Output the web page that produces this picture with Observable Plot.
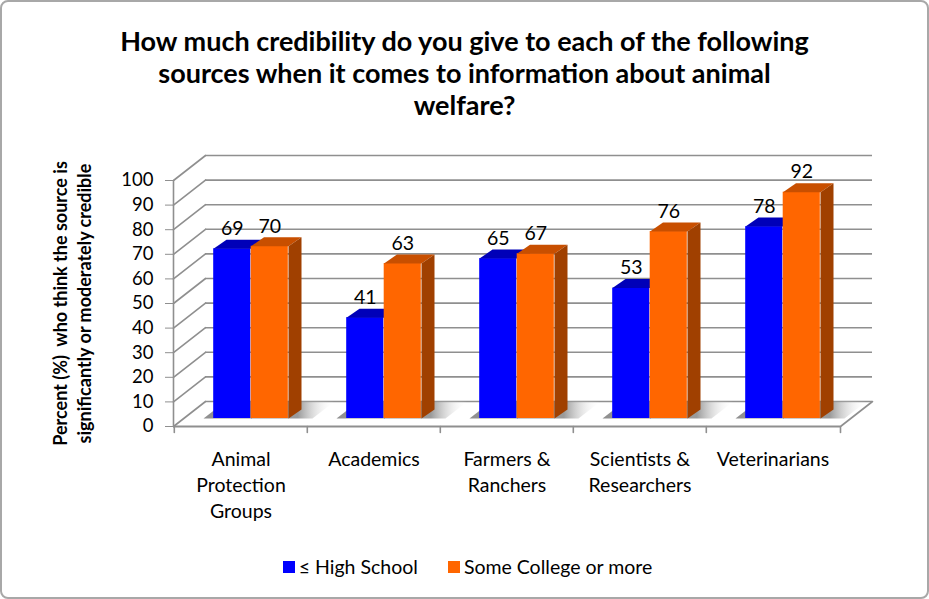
<!DOCTYPE html>
<html>
<head>
<meta charset="utf-8">
<script src="https://cdn.jsdelivr.net/npm/d3@7"></script>
<script src="https://cdn.jsdelivr.net/npm/@observablehq/plot@0.6"></script>
<style>
  body { margin: 0; background: #fff; }
  #page { position: relative; width: 929px; height: 599px; overflow: hidden; font-family: Lato, "Open Sans", sans-serif; }
  #border { position: absolute; left: 0; top: 0; width: 929px; height: 599px; box-sizing: border-box; border: 2px solid #a8a8a8; border-radius: 8px; pointer-events: none; }
  #title { position: absolute; left: 0; top: 25px; width: 929px; text-align: center; font-weight: bold; font-size: 27px; line-height: 32px; color: #000; }
  #chart { position: absolute; left: 0; top: 130px; }
  #legend { position: absolute; left: 0; top: 555px; width: 935px; display: flex; justify-content: center; gap: 30px; font-size: 19.5px; color: #000; }
  .item { display: flex; align-items: center; gap: 4px; }
  .sw { width: 12px; height: 12px; display: inline-block; }
</style>
</head>
<body>
<div id="page">
  <div id="title"></div>
  <div id="chart"></div>
  <div id="legend"></div>
  <div id="border"></div>
</div>
<script>
// ---- data ----
const titleLines = ["How much credibility do you give to each of the following", "sources when it comes to information about animal", "welfare?"];
const categories = ["Animal Protection Groups", "Academics", "Farmers & Ranchers", "Scientists & Researchers", "Veterinarians"];
const categoryLabels = ["Animal\nProtection\nGroups", "Academics", "Farmers &\nRanchers", "Scientists &\nResearchers", "Veterinarians"];
const seriesNames = ["≤ High School", "Some College or more"];
const highSchool = [69, 41, 65, 53, 78];
const someCollege = [70, 63, 67, 76, 92];
const yTicks = [0, 10, 20, 30, 40, 50, 60, 70, 80, 90, 100];
const yTitle = "Percent (%)  who think the source is\nsignificantly or moderately credible";
const frontColors = ["#0000ff", "#ff6600"];
const topColors = ["#0000b8", "#c84f00"];
const sideColors = ["#00008c", "#a04000"];

// ---- layout ----
const width = 929, height = 400;
const marginLeft = 173, marginRight = 89, marginTop = 50, marginBottom = 104;
const plotH = height - marginTop - marginBottom;
const bw = (width - marginLeft - marginRight) / categories.length;
const barW = 37.5;            // bar front width
const depthX = 13, depthY = 9; // bar depth
const planeDX = 10, planeDY = -8; // bar plane offset from front plane
const wallDX = 32, wallDY = -25;  // back wall offset
const grid = "#8f8f8f";

document.getElementById("title").innerHTML = titleLines.join("<br>");

const rowsHS = categories.map((c, i) => ({category: c, label: categoryLabels[i], value: highSchool[i]}));
const rowsSC = categories.map((c, i) => ({category: c, label: categoryLabels[i], value: someCollege[i]}));

function poly(fn) {
  return {draw(ctx, l) { const P = fn(l); ctx.moveTo(P[0][0], P[0][1]); for (let k = 1; k < P.length; ++k) ctx.lineTo(P[k][0], P[k][1]); ctx.closePath(); }};
}
const topL = poly(() => [[-barW, 0], [0, 0], [depthX, -depthY], [depthX - barW, -depthY]]);
const topR = poly(() => [[0, 0], [barW, 0], [barW + depthX, -depthY], [depthX, -depthY]]);
const sideL = poly(l => [[0, 0], [depthX, -depthY], [depthX, l - depthY], [0, l]]);
const sideR = poly(l => [[barW, 0], [barW + depthX, -depthY], [barW + depthX, l - depthY], [barW, l]]);
const shadowShape = poly(() => [[-barW - 10, 0], [barW + 24, 0], [barW + 46, -17], [-barW + 12, -17]]);
const diag = {draw(ctx) { ctx.moveTo(0, 0); ctx.lineTo(wallDX, wallDY); }};
const vline = {draw(ctx, l) { ctx.moveTo(0, 0); ctx.lineTo(0, -l); }};
const tickDown = {draw(ctx) { ctx.moveTo(0, 0); ctx.lineTo(0, 6); }};

function defs() {
  const ns = "http://www.w3.org/2000/svg";
  const d = document.createElementNS(ns, "defs");
  d.innerHTML = `<linearGradient id="shadowGrad" x1="0" x2="1" y1="0" y2="0">
    <stop offset="0" stop-color="#8a8a8a" stop-opacity="0.95"/>
    <stop offset="0.72" stop-color="#8f8f8f" stop-opacity="0.9"/>
    <stop offset="1" stop-color="#ffffff" stop-opacity="0"/>
  </linearGradient>`;
  return d;
}

const common = {x: "category", y: "value", dx: planeDX, dy: planeDY};

const chart = Plot.plot({
  width, height, marginLeft, marginRight, marginTop, marginBottom,
  style: {fontFamily: "Lato, 'Open Sans', sans-serif", fontSize: "18px", background: "transparent", overflow: "visible", color: "#000"},
  x: {type: "band", domain: categories, padding: 0, axis: null},
  y: {domain: [0, 100]},
  length: {domain: [0, 100], range: [0, plotH]},
  marks: [
    defs,
    // back wall gridlines
    Plot.ruleY(yTicks, {dx: wallDX, dy: wallDY, stroke: grid, strokeWidth: 1.6}),
    // left wall diagonals
    Plot.vector(yTicks, {y: d => d, frameAnchor: "left", anchor: "start", shape: diag, stroke: grid, strokeWidth: 1.6, fill: "none"}),
    // floor right edge
    Plot.vector([0], {y: d => d, frameAnchor: "right", anchor: "start", shape: diag, stroke: grid, strokeWidth: 1.6, fill: "none"}),
    // floor front edge
    Plot.ruleY([0], {stroke: grid, strokeWidth: 2}),
    // front vertical axis line
    Plot.vector([0], {y: d => d, length: () => 100, frameAnchor: "left", anchor: "start", shape: vline, stroke: grid, strokeWidth: 1.6, fill: "none"}),
    // x ticks at category boundaries
    Plot.vector(categories, {x: d => d, frameAnchor: "bottom", dx: -bw / 2, anchor: "start", shape: tickDown, stroke: grid, strokeWidth: 1.6, fill: "none"}),
    Plot.vector([0], {frameAnchor: "bottom-right", anchor: "start", shape: tickDown, stroke: grid, strokeWidth: 1.6, fill: "none"}),
    // shadows on floor
    Plot.vector(rowsSC, {x: "category", y: () => 0, dx: planeDX, dy: planeDY, anchor: "start", shape: shadowShape, fill: "url(#shadowGrad)", stroke: "none"}),
    // blue bars
    Plot.barY(rowsHS, {...common, fill: frontColors[0], insetLeft: bw / 2 - barW, insetRight: bw / 2}),
    Plot.vector(rowsHS, {...common, length: "value", anchor: "start", shape: sideL, fill: sideColors[0], stroke: "none"}),
    Plot.vector(rowsHS, {...common, anchor: "start", shape: topL, fill: topColors[0], stroke: "none"}),
    // orange bars
    Plot.barY(rowsSC, {...common, fill: frontColors[1], insetLeft: bw / 2, insetRight: bw / 2 - barW}),
    Plot.vector(rowsSC, {...common, anchor: "start", shape: topR, fill: topColors[1], stroke: "none"}),
    Plot.vector(rowsSC, {...common, length: "value", anchor: "start", shape: sideR, fill: sideColors[1], stroke: "none"}),
    // value labels
    Plot.text(rowsHS, {x: "category", y: "value", text: "value", dx: planeDX - barW / 2, dy: planeDY - 20, fontSize: 19.5, fill: "#000"}),
    Plot.text(rowsSC, {x: "category", y: "value", text: "value", dx: planeDX + barW / 2, dy: planeDY - 20, fontSize: 19.5, fill: "#000"}),
    // y axis
    Plot.axisY({ticks: yTicks, tickFormat: d => d, tickSize: 8, tickPadding: 12, fontSize: 18.5, stroke: grid, fill: "#000", label: null}),
    // category labels
    Plot.text(rowsHS, {x: "category", text: "label", frameAnchor: "bottom", lineAnchor: "top", dy: 21, lineHeight: 1.33, fontSize: 19.5, fill: "#000"}),
    // y title
    Plot.text([yTitle], {text: d => d, frameAnchor: "left", textAnchor: "middle", rotate: -90, dx: -102, lineAnchor: "middle", lineHeight: 1.3, fontSize: 18, fontWeight: "bold", fill: "#000"})
  ]
});
document.getElementById("chart").appendChild(chart);

const legend = document.getElementById("legend");
seriesNames.forEach((name, i) => {
  const item = document.createElement("div");
  item.className = "item";
  const sw = document.createElement("span");
  sw.className = "sw";
  sw.style.background = frontColors[i];
  const t = document.createElement("span");
  t.textContent = name;
  item.appendChild(sw); item.appendChild(t);
  legend.appendChild(item);
});
</script>
</body>
</html>
